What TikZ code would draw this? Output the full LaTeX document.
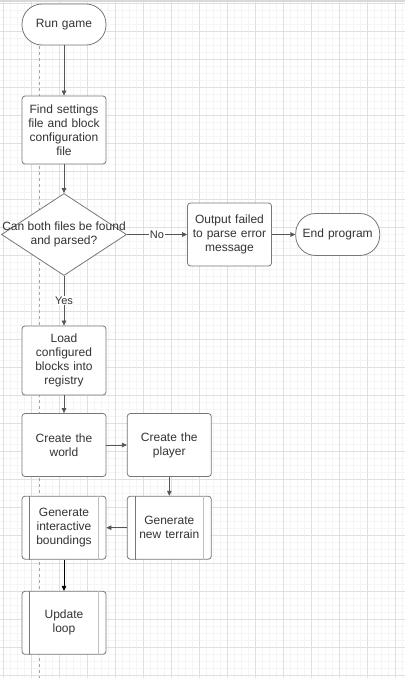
\documentclass[tikz,border=0pt]{standalone}
\usepackage{fontspec}
\setmainfont{Liberation Sans}
\usepackage{tikz}
\usetikzlibrary{shapes.geometric, arrows.meta}

\definecolor{bordc}{HTML}{777777}
\definecolor{txtc}{HTML}{333333}
\definecolor{linec}{HTML}{555555}

\tikzset{
    box/.style={rectangle, draw=bordc, fill=white, rounded corners=3pt, line width=0.8pt,
        minimum width=84pt, minimum height=63pt, inner sep=0pt, text width=80pt,
        align=center, text=txtc, font=\fontsize{12}{14}\selectfont},
    term/.style={box, rounded corners=20pt, minimum height=41pt},
    arr/.style={draw=linec, line width=0.7pt, -{Triangle[length=5pt,width=4.5pt]}},
    lbl/.style={fill=white, inner sep=0.5pt, text=txtc, font=\fontsize{11}{13}\selectfont}
}

\begin{document}
\begin{tikzpicture}[x=1pt, y=-1pt]
    \useasboundingbox (0,0) rectangle (405,678);
    \clip (0,0) rectangle (405,678);
    \fill[white] (0,0) rectangle (405,678);
    % grid
    \foreach \i in {0,...,58} \draw[color=black!4, line width=0.5pt] ({7*\i-3.7},0) -- ++(0,678);
    \foreach \i in {0,...,97} \draw[color=black!4, line width=0.5pt] (0,{7*\i-3.7}) -- ++(405,0);
    \foreach \i in {0,...,14} \draw[color=black!12, line width=0.7pt] ({28*\i+3.3},0) -- ++(0,678);
    \foreach \i in {0,...,24} \draw[color=black!12, line width=0.7pt] (0,{28*\i+3.3}) -- ++(405,0);
    \draw[color=black!15, line width=2.5pt] (0,1) -- (405,1);
    \draw[color=black!35, line width=0.6pt, dash pattern=on 3pt off 3pt] (39.5,46) -- (39.5,678);

    % nodes
    \node at (64,24.5) [term] (rg) {Run game};
    \node at (64,130) [box, minimum height=68pt] (fs) {Find settings\\file and block\\configuration\\file};
    \node at (64,234.5) [diamond, draw=bordc, fill=white, line width=0.8pt, inner sep=0pt,
        minimum width=125pt, minimum height=82pt] (cf) {};
    \node at (cf.center) [text=txtc, font=\fontsize{12}{14}\selectfont, align=center] (cft) {Can both files be found\\and parsed?};
    \node at (229.5,234.5) [box] (op) {Output failed\\to parse error\\message};
    \node at (337.7,234.5) [term, minimum height=42pt] (ep) {End program};
    \node at (64,360.5) [box, minimum height=69pt] (lb) {Load\\configured\\blocks into\\registry};
    \node at (64,445) [box] (cw) {Create the\\world};
    \node at (169.3,445) [box] (cp) {Create the\\player};
    \node at (169.3,527.7) [box] (gt) {Generate\\new terrain};
    \node at (64,527.7) [box] (gb) {Generate\\interactive\\boundings};
    \node at (64,622.8) [box] (ul) {Update\\loop};

    % side bars of the process boxes
    \foreach \n in {gt, gb, ul} {
        \draw[bordc, line width=0.8pt] ([xshift=8pt]\n.north west) -- ([xshift=8pt]\n.south west);
        \draw[black!25, line width=1.2pt] ([xshift=-8pt]\n.north east) -- ([xshift=-8pt]\n.south east);
    }

    % connectors
    \draw[arr] (rg) -- (fs);
    \draw[arr] (fs) -- (cf);
    \draw[arr] (cf) -- node[lbl] {No} (op);
    \draw[arr] (op) -- (ep);
    \draw[arr] (cf) -- node[lbl] {Yes} (lb);
    \draw[arr] (lb) -- (cw);
    \draw[arr] (cw) -- (cp);
    \draw[arr] (cp) -- (gt);
    \draw[arr] (gt) -- (gb);
    \draw[arr, draw=black, line width=1pt] (gb) -- (ul);
\end{tikzpicture}
\end{document}
